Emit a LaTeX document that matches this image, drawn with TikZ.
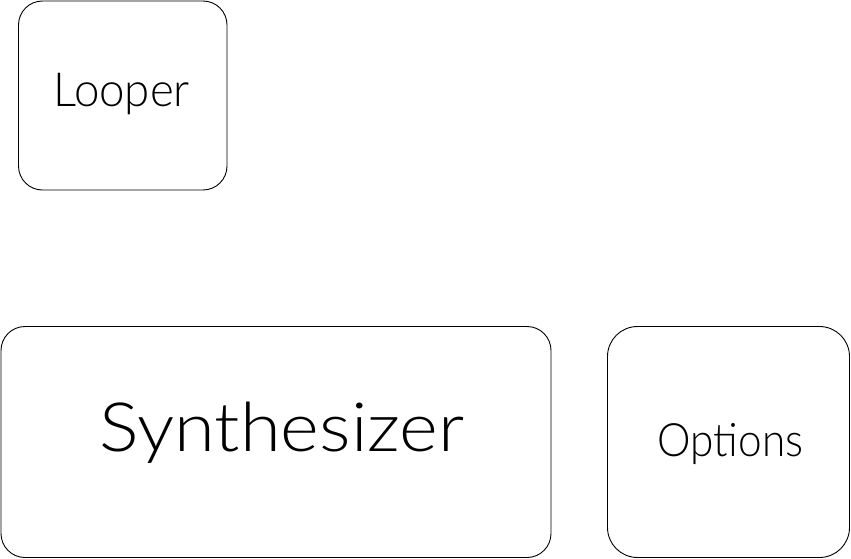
\documentclass[tikz,border=0pt]{standalone}
\usepackage{fontspec}
\setmainfont{Lato}[UprightFont=* Light]
\begin{document}
\begin{tikzpicture}[x=1pt,y=-1pt,
  box/.style={draw=black, line width=0.9pt, rounded corners=24pt},
  lbl/.style={inner sep=0pt, text=black, anchor=base}]
\useasboundingbox (0,0) rectangle (851,559);
\draw[box] (18.5,1) rectangle (227,190);
\draw[box] (1,326.5) rectangle (551,557.5);
\draw[box, rounded corners=30pt] (607.5,326.5) rectangle (849.5,557.5);
\node[lbl] (looper) at (121.5,107) {\scalebox{0.97}[1]{\fontsize{47}{56}\selectfont Looper}};
\node[lbl] (synth) at (282,451) {\scalebox{1.09}[1]{\fontsize{68}{80}\selectfont Synthesizer}};
\node[lbl] (opts) at (730.5,456) {\scalebox{0.92}[1]{\fontsize{46}{54}\selectfont Options}};
\end{tikzpicture}
\end{document}
